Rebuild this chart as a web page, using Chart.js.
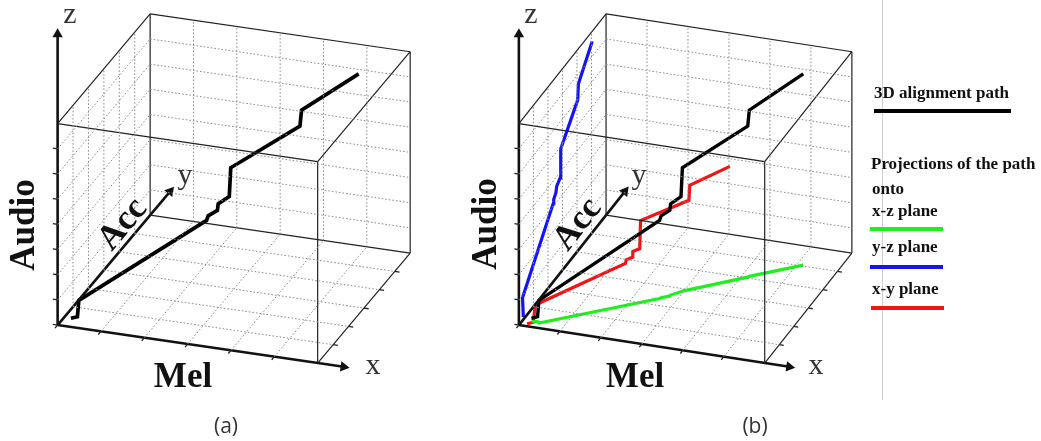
<!DOCTYPE html>
<html>
<head>
<meta charset="utf-8">
<script src="https://cdn.jsdelivr.net/npm/chart.js@4.4.1/dist/chart.umd.min.js"></script>
<style>
  body { margin: 0; background: #fff; width: 1041px; height: 441px; position: relative; overflow: hidden; font-family: "Liberation Serif", "DejaVu Serif", serif; }
  canvas { position: absolute; top: 0; }
  .lbl { position: absolute; white-space: nowrap; line-height: 1; transform: translate(-50%, -50%); }
  .big { font-weight: bold; font-size: 35px; color: #111; }
  .ax { font-size: 30px; color: #333; }
  .cap { font-family: "Open Sans", "DejaVu Sans", sans-serif; font-size: 21px; color: #333; }
  .leg { position: absolute; white-space: nowrap; font-weight: bold; font-size: 17px; color: #111; line-height: 1; }
  .bar { position: absolute; height: 4px; }
  .frame { position: absolute; left: 882px; top: 0; width: 1px; height: 400px; background: #cfcfcf; }
</style>
</head>
<body>
<canvas id="panelA" width="460" height="441" style="left:0"></canvas>
<canvas id="panelB" width="581" height="441" style="left:460px"></canvas>
<div class="frame"></div>

<!-- axis labels, panel (a) -->
<div class="lbl ax" style="left:70px;top:13px">z</div>
<div class="lbl ax" style="left:185px;top:174px">y</div>
<div class="lbl ax" style="left:373px;top:364px">x</div>
<div class="lbl big" style="left:22px;top:225px;transform:translate(-50%,-50%) rotate(-90deg)">Audio</div>
<div class="lbl big" style="left:121px;top:223px;transform:translate(-50%,-50%) rotate(-50deg)">Acc</div>
<div class="lbl big" style="left:183px;top:375px">Mel</div>
<div class="lbl cap" style="left:226px;top:425px">(a)</div>

<!-- axis labels, panel (b) -->
<div class="lbl ax" style="left:531px;top:13px">z</div>
<div class="lbl ax" style="left:639px;top:174px">y</div>
<div class="lbl ax" style="left:816px;top:364px">x</div>
<div class="lbl big" style="left:484px;top:224px;transform:translate(-50%,-50%) rotate(-90deg)">Audio</div>
<div class="lbl big" style="left:576px;top:223px;transform:translate(-50%,-50%) rotate(-52deg)">Acc</div>
<div class="lbl big" style="left:635px;top:375px">Mel</div>
<div class="lbl cap" style="left:755px;top:425px">(b)</div>

<!-- legend, panel (b) -->
<div class="leg" style="left:874px;top:84px">3D alignment path</div>
<div class="bar" style="left:874px;top:109px;width:137px;background:#000"></div>
<div class="leg" style="left:871px;top:155px">Projections of the path</div>
<div class="leg" style="left:872px;top:180px">onto</div>
<div class="leg" style="left:872px;top:202px">x-z plane</div>
<div class="bar" style="left:870px;top:227px;width:73px;background:#1ef01e"></div>
<div class="leg" style="left:872px;top:238px">y-z plane</div>
<div class="bar" style="left:870px;top:265px;width:73px;background:#1414f0"></div>
<div class="leg" style="left:872px;top:280px">x-y plane</div>
<div class="bar" style="left:871px;top:306px;width:73px;background:#f01414"></div>

<script>
// grid divisions of the three axes (Mel = x, Acc = y, Audio = z)
const melTicks = [0, 1, 2, 3, 4, 5, 6];
const accTicks = [0, 1, 2, 3, 4, 5, 6];
const audioTicks = [0, 1, 2, 3, 4, 5, 6, 7, 8];

// how far each axis arrow reaches, in grid units
const axisReach = { mel: 6.6, acc: 7.3, audio: 11.55 };

// 3D alignment path, in grid units
const pathMel   = [0.2, 0.35, 0.4, 2.6, 2.62, 2.78, 2.78, 2.95, 2.97, 4.15, 4.17, 5.15];
const pathAcc   = [0.3, 0.3, 0.25, 2.35, 2.4, 2.55, 2.6, 2.84, 2.88, 4.05, 4.1, 5.05];
const pathAudio = [0.1, 0.2, 0.9, 3.1, 3.25, 3.4, 3.62, 3.78, 4.9, 6.0, 6.6, 7.6];

const NX = melTicks[melTicks.length - 1];
const NY = accTicks[accTicks.length - 1];
const NZ = audioTicks[audioTicks.length - 1];

// oblique view: origin and the on-screen vectors of the full x, y, z extents
function criarVista(origem, vx, vy, vz) {
  return (x, y, z) => ({
    x: origem[0] + x / NX * vx[0] + y / NY * vy[0] + z / NZ * vz[0],
    y: origem[1] + x / NX * vx[1] + y / NY * vy[1] + z / NZ * vz[1]
  });
}

function linha(vista, pontos, cor, largura, extra) {
  return Object.assign({
    data: pontos.map(p => vista(p[0], p[1], p[2])),
    showLine: true,
    pointRadius: 0,
    borderColor: cor,
    borderWidth: largura,
    borderJoinStyle: "miter",
    clip: false
  }, extra || {});
}

function montarCaixa(vista) {
  const ds = [];
  const pontilhado = { borderDash: [1.6, 2] };
  const cinza = "#8c8c8c";
  const miolo = a => a.slice(1, -1);

  // dotted grid on back wall, side wall and floor
  miolo(melTicks).forEach(t => ds.push(linha(vista, [[t, NY, 0], [t, NY, NZ]], cinza, 1, pontilhado)));
  miolo(audioTicks).forEach(t => ds.push(linha(vista, [[0, NY, t], [NX, NY, t]], cinza, 1, pontilhado)));
  miolo(accTicks).forEach(t => ds.push(linha(vista, [[0, t, 0], [0, t, NZ]], cinza, 1, pontilhado)));
  miolo(audioTicks).forEach(t => ds.push(linha(vista, [[0, 0, t], [0, NY, t]], cinza, 1, pontilhado)));
  miolo(melTicks).forEach(t => ds.push(linha(vista, [[t, 0, 0], [t, NY, 0]], cinza, 1, pontilhado)));
  miolo(accTicks).forEach(t => ds.push(linha(vista, [[0, t, 0], [NX, t, 0]], cinza, 1, pontilhado)));

  // thin box edges
  const arestas = [
    [[0, 0, NZ], [NX, 0, NZ]], [[NX, 0, 0], [NX, 0, NZ]],
    [[0, NY, 0], [NX, NY, 0]], [[0, NY, 0], [0, NY, NZ]],
    [[NX, NY, 0], [NX, NY, NZ]], [[0, NY, NZ], [NX, NY, NZ]],
    [[0, 0, NZ], [0, NY, NZ]], [[NX, 0, NZ], [NX, NY, NZ]],
    [[NX, 0, 0], [NX, NY, 0]]
  ];
  arestas.forEach(a => ds.push(linha(vista, a, "#222", 1.2)));

  // tick marks
  audioTicks.slice(0, -1).forEach(t => ds.push(linha(vista, [[0, 0, t], [-0.11, 0, t]], "#222", 1.3)));
  melTicks.slice(0, -1).forEach(t => ds.push(linha(vista, [[t, 0, 0], [t, -0.17, 0]], "#222", 1.3)));
  miolo(accTicks).forEach(t => ds.push(linha(vista, [[NX, t, 0], [NX + 0.11, t, 0]], "#222", 1.3)));

  // main axes with arrow heads
  const eixos = [[axisReach.mel, 0, 0], [0, axisReach.acc, 0], [0, 0, axisReach.audio]];
  eixos.forEach(fim => {
    const a = vista(0, 0, 0), b = vista(fim[0], fim[1], fim[2]);
    const ang = Math.atan2(b.x - a.x, -(b.y - a.y)) * 180 / Math.PI;
    ds.push(linha(vista, [[0, 0, 0], fim], "#111", 2.6, {
      pointRadius: [0, 6],
      pointStyle: "triangle",
      rotation: [0, ang],
      pointBackgroundColor: "#111",
      pointBorderColor: "#111",
      pointBorderWidth: 0
    }));
  });
  return ds;
}

function caminho(zerar) {
  return pathMel.map((m, i) => [
    zerar === "x" ? 0 : m,
    zerar === "y" ? 0 : pathAcc[i],
    zerar === "z" ? 0 : pathAudio[i]
  ]);
}

function renderizarPainel(id, vista, comProjecoes) {
  const canvas = document.getElementById(id);
  const datasets = montarCaixa(vista);

  if (comProjecoes) {
    datasets.push(linha(vista, caminho(null), "#000", 3.4));
    datasets.push(linha(vista, caminho("z"), "#1ef01e", 3.2));
    datasets.push(linha(vista, caminho("x"), "#1414f0", 3.2));
    datasets.push(linha(vista, caminho("y"), "#f01414", 3.2));
  } else {
    datasets.push(linha(vista, caminho(null), "#000", 3.7));
  }

  new Chart(canvas, {
    type: "scatter",
    data: { datasets },
    options: {
      responsive: false,
      animation: false,
      devicePixelRatio: 1,
      events: [],
      layout: { padding: 0 },
      plugins: { legend: { display: false }, tooltip: { enabled: false } },
      scales: {
        x: { type: "linear", min: 0, max: canvas.width, display: false },
        y: { type: "linear", min: 0, max: canvas.height, reverse: true, display: false }
      }
    }
  });
}

renderizarPainel("panelA", criarVista([53, 328], [267, 39], [95, -113], [0, -207]), false);
renderizarPainel("panelB", criarVista([54, 328], [251, 39], [89, -113], [0, -207]), true);
</script>
</body>
</html>
